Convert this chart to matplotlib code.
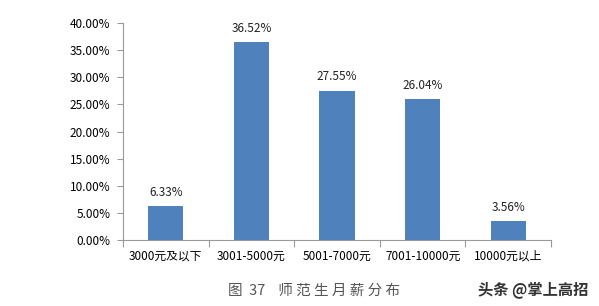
import numpy as np
from matplotlib import pyplot as plt
from matplotlib.ticker import FuncFormatter

categories = ["3000元及以下", "3001-5000元", "5001-7000元", "7001-10000元", "10000元以上"]
values = [6.33, 36.52, 27.55, 26.04, 3.56]
labels = ["6.33%", "36.52%", "27.55%", "26.04%", "3.56%"]

plt.rcParams['font.family'] = ['Noto Sans CJK SC', 'DejaVu Sans']

fig = plt.figure(figsize=(5.99, 3.06), dpi=100)
ax = fig.add_axes([0.2053, 0.2157, 0.7147, 0.7091])

x = np.arange(len(categories))
ax.bar(x, values, width=0.41, color="#4F81BD")
for xi, v, lab in zip(x, values, labels):
    ax.text(xi, v + 1.3, lab, ha="center", va="bottom", fontsize=8.5, color="#222222")

ax.set_xlim(-0.5, len(categories) - 0.5)
ax.set_ylim(0, 40)
ax.set_yticks(np.arange(0, 41, 5))
ax.yaxis.set_major_formatter(FuncFormatter(lambda v, p: "%.2f%%" % v))
ax.set_xticks(np.arange(-0.5, len(categories), 1))
ax.set_xticklabels([])
ax.set_xticks(x, minor=True)
ax.set_xticklabels(categories, minor=True)
ax.tick_params(axis="x", which="minor", length=0, pad=7, labelsize=8.5)
ax.tick_params(axis="x", which="major", length=5, color="#999999")
ax.tick_params(axis="y", length=4, color="#999999", labelsize=8.5, pad=5)

for s in ["top", "right"]:
    ax.spines[s].set_visible(False)
for s in ["left", "bottom"]:
    ax.spines[s].set_color("#999999")

fig.text(0.525, 0.05, "图  37    师 范 生 月 薪 分 布", ha="center", va="center",
         fontsize=10.5, color="#555555")
fig.text(0.983, 0.055, "头条 @掌上高招", ha="right", va="center",
         fontsize=11, color="#333333", fontweight="bold")

fig.savefig("out.png", dpi=100)
